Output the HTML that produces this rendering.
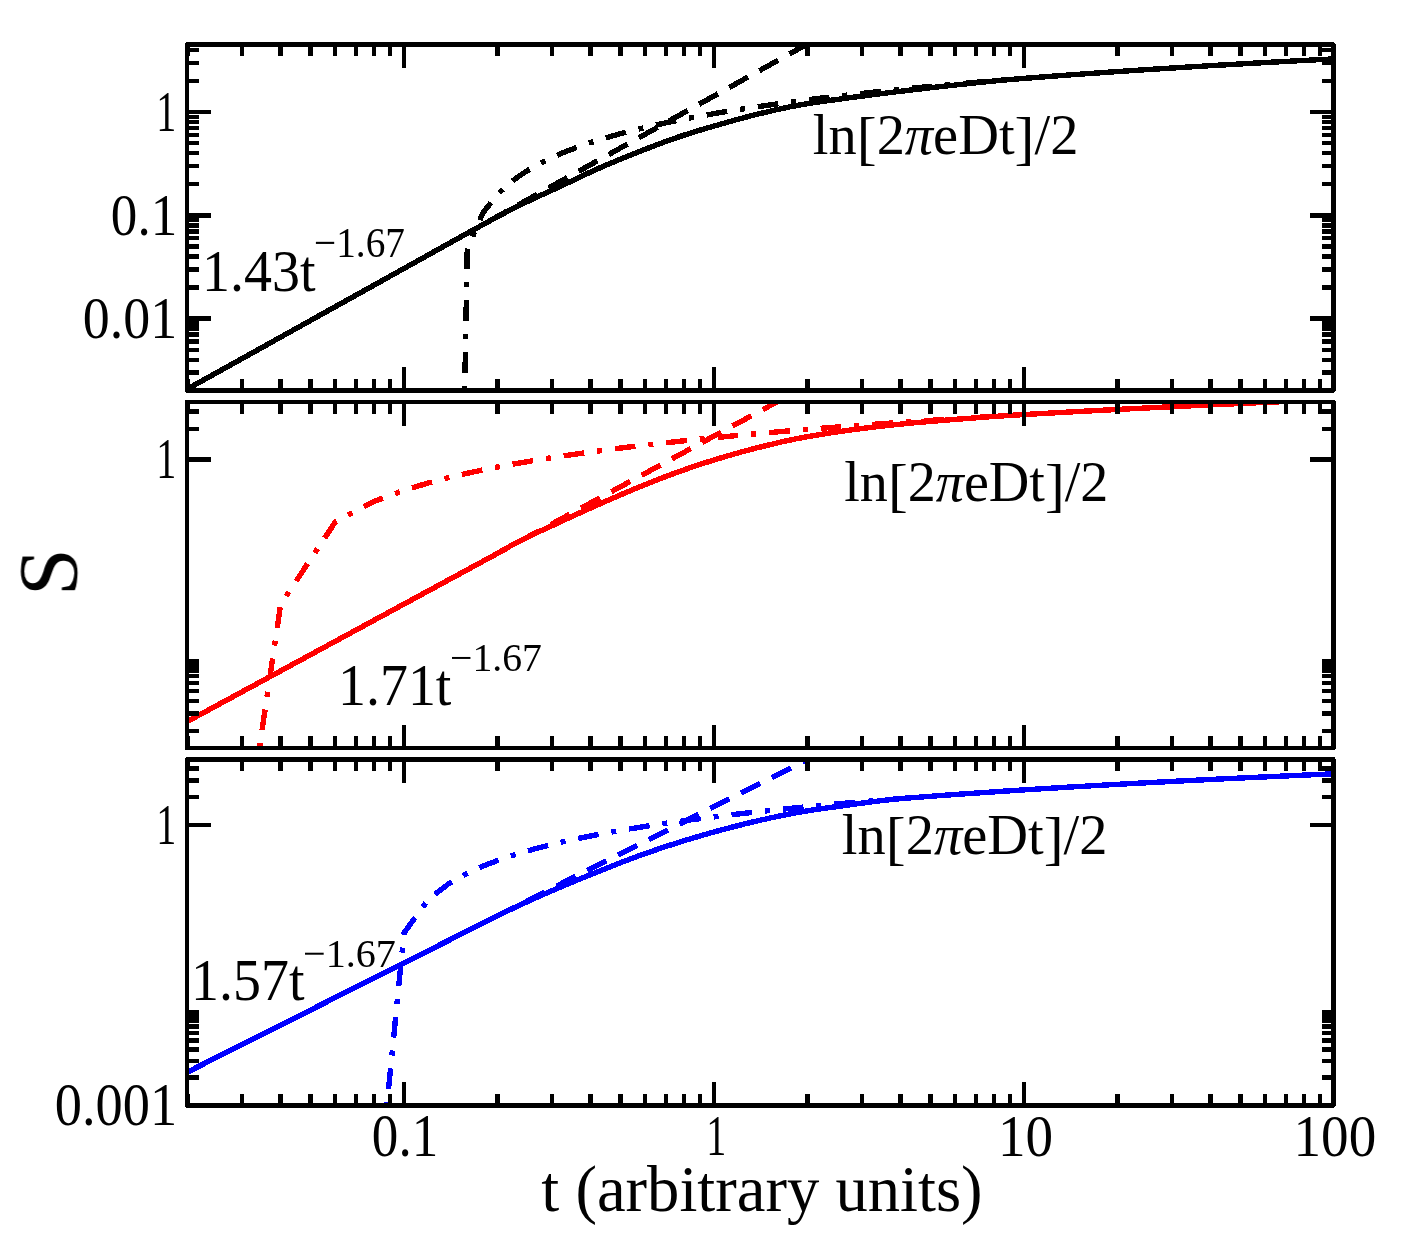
<!DOCTYPE html>
<html><head><meta charset="utf-8"><style>
html,body{margin:0;padding:0;background:#fff;}
svg{display:block;}
text{font-family:"Liberation Serif",serif;fill:#000;}
</style></head><body>
<svg width="1408" height="1236" viewBox="0 0 1408 1236" shape-rendering="crispEdges">
<defs><clipPath id="c0"><rect x="187.0" y="44.5" width="1146.5" height="346.0"/></clipPath><clipPath id="c1"><rect x="187.0" y="402.0" width="1146.5" height="346.0"/></clipPath><clipPath id="c2"><rect x="187.0" y="759.4" width="1146.5" height="346.1"/></clipPath></defs>
<rect width="1408" height="1236" fill="#fff"/>
<g clip-path="url(#c0)">
<path d="M170 398.68 L173 397.01 L176 395.34 L179 393.67 L182 392 L185 390.34 L188 388.67 L191 387 L194 385.33 L197 383.66 L200 381.99 L203 380.32 L206 378.65 L209 376.98 L212 375.31 L215 373.64 L218 371.97 L221 370.3 L224 368.63 L227 366.96 L230 365.29 L233 363.62 L236 361.95 L239 360.29 L242 358.62 L245 356.95 L248 355.28 L251 353.61 L254 351.94 L257 350.27 L260 348.6 L263 346.93 L266 345.26 L269 343.59 L272 341.92 L275 340.25 L278 338.58 L281 336.91 L284 335.24 L287 333.57 L290 331.9 L293 330.23 L296 328.57 L299 326.9 L302 325.23 L305 323.56 L308 321.89 L311 320.22 L314 318.55 L317 316.88 L320 315.21 L323 313.54 L326 311.87 L329 310.2 L332 308.53 L335 306.86 L338 305.19 L341 303.52 L344 301.85 L347 300.18 L350 298.52 L353 296.85 L356 295.18 L359 293.51 L362 291.84 L365 290.17 L368 288.5 L371 286.83 L374 285.16 L377 283.49 L380 281.82 L383 280.15 L386 278.48 L389 276.81 L392 275.14 L395 273.47 L398 271.8 L401 270.13 L404 268.46 L407 266.8 L410 265.13 L413 263.46 L416 261.79 L419 260.12 L422 258.45 L425 256.78 L428 255.11 L431 253.44 L434 251.77 L437 250.1 L440 248.43 L443 246.76 L446 245.09 L449 243.42 L452 241.75 L455 240.08 L458 238.41 L461 236.75 L464 235.08 L467 233.4 L470 231.73 L473 230.06 L476 228.42 L479 226.78 L482 225.14 L485 223.5 L488 221.87 L491 220.24 L494 218.62 L497 217.01 L500 215.41 L503 213.82 L506 212.24 L509 210.68 L512 209.13 L515 207.6 L518 206.09 L521 204.61 L524 203.14 L527 201.71 L530 200.29 L533 198.88 L536 197.5 L539 196.12 L542 194.75 L545 193.38 L548 192.02 L551 190.65 L554 189.28 L557 187.9 L560 186.51 L563 185.1 L566 183.68 L569 182.26 L572 180.83 L575 179.39 L578 177.96 L581 176.54 L584 175.12 L587 173.71 L590 172.31 L593 170.93 L596 169.58 L599 168.24 L602 166.93 L605 165.63 L608 164.34 L611 163.07 L614 161.81 L617 160.56 L620 159.32 L623 158.09 L626 156.88 L629 155.67 L632 154.47 L635 153.28 L638 152.1 L641 150.93 L644 149.76 L647 148.6 L650 147.44 L653 146.28 L656 145.14 L659 144.01 L662 142.88 L665 141.77 L668 140.68 L671 139.61 L674 138.55 L677 137.51 L680 136.5 L683 135.51 L686 134.53 L689 133.57 L692 132.63 L695 131.7 L698 130.78 L701 129.88 L704 128.98 L707 128.1 L710 127.22 L713 126.35 L716 125.49 L719 124.63 L722 123.77 L725 122.92 L728 122.07 L731 121.23 L734 120.39 L737 119.56 L740 118.74 L743 117.93 L746 117.13 L749 116.35 L752 115.58 L755 114.82 L758 114.08 L761 113.36 L764 112.65 L767 111.94 L770 111.23 L773 110.54 L776 109.85 L779 109.18 L782 108.52 L785 107.88 L788 107.26 L791 106.65 L794 106.07 L797 105.5 L800 104.96 L803 104.45 L806 103.95 L809 103.47 L812 103 L815 102.55 L818 102.11 L821 101.68 L824 101.25 L827 100.84 L830 100.42 L833 100.01 L836 99.6 L839 99.19 L842 98.77 L845 98.37 L848 97.96 L851 97.56 L854 97.16 L857 96.76 L860 96.37 L863 95.98 L866 95.59 L869 95.2 L872 94.82 L875 94.44 L878 94.07 L881 93.69 L884 93.32 L887 92.95 L890 92.58 L893 92.21 L896 91.85 L899 91.48 L902 91.12 L905 90.76 L908 90.4 L911 90.05 L914 89.69 L917 89.34 L920 88.99 L923 88.64 L926 88.3 L929 87.95 L932 87.61 L935 87.27 L938 86.93 L941 86.6 L944 86.26 L947 85.93 L950 85.6 L953 85.28 L956 84.95 L959 84.63 L962 84.31 L965 83.99 L968 83.67 L971 83.35 L974 83.04 L977 82.72 L980 82.41 L983 82.1 L986 81.79 L989 81.49 L992 81.19 L995 80.9 L998 80.61 L1001 80.32 L1004 80.05 L1007 79.77 L1010 79.51 L1013 79.26 L1016 79.03 L1019 78.79 L1022 78.55 L1025 78.31 L1028 78.08 L1031 77.85 L1034 77.61 L1037 77.38 L1040 77.15 L1043 76.92 L1046 76.69 L1049 76.47 L1052 76.24 L1055 76.02 L1058 75.79 L1061 75.57 L1064 75.35 L1067 75.13 L1070 74.91 L1073 74.69 L1076 74.47 L1079 74.26 L1082 74.04 L1085 73.83 L1088 73.62 L1091 73.4 L1094 73.19 L1097 72.98 L1100 72.77 L1103 72.57 L1106 72.36 L1109 72.15 L1112 71.95 L1115 71.74 L1118 71.54 L1121 71.34 L1124 71.14 L1127 70.94 L1130 70.74 L1133 70.54 L1136 70.34 L1139 70.14 L1142 69.95 L1145 69.75 L1148 69.56 L1151 69.36 L1154 69.17 L1157 68.98 L1160 68.79 L1163 68.6 L1166 68.41 L1169 68.22 L1172 68.03 L1175 67.84 L1178 67.66 L1181 67.47 L1184 67.29 L1187 67.1 L1190 66.92 L1193 66.74 L1196 66.55 L1199 66.37 L1202 66.19 L1205 66.01 L1208 65.83 L1211 65.66 L1214 65.48 L1217 65.3 L1220 65.12 L1223 64.95 L1226 64.77 L1229 64.6 L1232 64.43 L1235 64.25 L1238 64.08 L1241 63.91 L1244 63.74 L1247 63.57 L1250 63.4 L1253 63.23 L1256 63.06 L1259 62.9 L1262 62.73 L1265 62.56 L1268 62.4 L1271 62.23 L1274 62.07 L1277 61.9 L1280 61.74 L1283 61.58 L1286 61.41 L1289 61.25 L1292 61.09 L1295 60.93 L1298 60.77 L1301 60.61 L1304 60.45 L1307 60.3 L1310 60.14 L1313 59.98 L1316 59.82 L1319 59.67 L1322 59.51 L1325 59.36 L1328 59.2 L1331 59.05 L1334 58.9 L1337 58.74 L1340 58.59 L1343 58.44" fill="none" stroke="#000" stroke-width="5.4" stroke-linejoin="round"/>
<path d="M187.32 389.04 L1427.32 -301" fill="none" stroke="#000" stroke-width="5.4" stroke-linejoin="round" stroke-dasharray="21.5 12.95" stroke-dashoffset="0"/>
<path d="M449.3 1236 L467.28 248.7 L483.13 212.52 L497.32 194.48 L510.15 182.72 L521.87 174.15 L532.64 167.5 L542.62 162.11 L551.91 157.61 L560.6 153.78 L568.76 150.45 L576.45 147.53 L583.73 144.93 L590.64 142.59 L597.21 140.48 L603.47 138.55 L609.45 136.79 L615.18 135.16 L620.68 133.65 L625.96 132.24 L631.04 130.93 L635.94 129.71 L640.66 128.55 L645.23 127.47 L649.64 126.44 L653.92 125.47 L658.06 124.55 L662.08 123.67 L665.98 122.83 L669.77 122.04 L673.46 121.27 L677.05 120.54 L680.55 119.85 L683.96 119.17 L687.28 118.53 L690.53 117.91 L693.69 117.31 L696.79 116.73 L699.82 116.18 L702.77 115.64 L705.67 115.12 L708.5 114.61 L711.28 114.13 L714 113.65 L716.67 113.2 L719.28 112.75 L721.84 112.32 L724.36 111.9 L726.83 111.49 L729.26 111.09 L731.64 110.7 L733.98 110.33 L736.28 109.96 L738.55 109.6 L740.77 109.25 L742.96 108.91 L745.11 108.57 L747.24 108.25 L749.32 107.93 L751.38 107.62 L753.4 107.31 L755.4 107.01 L757.36 106.72 L759.3 106.44 L761.21 106.16 L763.09 105.88 L764.95 105.61 L766.78 105.35 L768.59 105.09 L770.37 104.84 L772.13 104.59 L773.87 104.34 L775.58 104.1 L777.28 103.87 L778.95 103.63 L780.6 103.41 L782.23 103.18 L783.85 102.96 L785.44 102.75 L787.01 102.53 L788.57 102.32 L790.11 102.12 L791.63 101.91 L793.13 101.71 L796.09 101.32 L798.99 100.95 L801.82 100.58 L804.6 100.22 L807.32 99.87 L809.99 99.54 L812.6 99.21 L815.16 98.89 L817.68 98.57 L820.15 98.27 L822.58 97.97 L824.96 97.68 L827.3 97.4 L829.6 97.13 L831.87 96.86 L834.09 96.59 L836.28 96.33 L838.43 96.08 L840.55 95.83 L842.64 95.59 L844.7 95.36 L846.72 95.12 L848.72 94.9 L850.68 94.67 L852.62 94.45 L854.53 94.24 L856.41 94.03 L858.27 93.82 L860.1 93.62 L861.91 93.42 L863.69 93.22 L865.45 93.03 L867.19 92.84 L868.9 92.66 L870.6 92.47 L872.27 92.29 L873.92 92.12 L875.55 91.94 L877.17 91.77 L878.76 91.6 L880.33 91.44 L881.89 91.27 L883.43 91.11 L884.95 90.95 L886.45 90.8 L888.68 90.56 L890.87 90.34 L893.02 90.12 L895.14 89.9 L897.23 89.69 L899.29 89.48 L901.31 89.28 L903.3 89.08 L905.27 88.88 L907.21 88.69 L909.12 88.5 L911 88.32 L912.86 88.13 L914.69 87.95 L916.5 87.78 L918.28 87.61 L920.04 87.44 L921.78 87.27 L923.49 87.1 L925.18 86.94 L926.86 86.78 L928.51 86.63 L930.14 86.47 L931.75 86.32 L933.35 86.17 L934.92 86.02 L936.48 85.88 L938.02 85.74 L939.54 85.6 L941.04 85.46 L943.02 85.27 L944.97 85.1 L946.9 84.92 L948.79 84.75 L950.66 84.58 L952.51 84.41 L954.33 84.25 L956.12 84.09 L957.89 83.93 L959.64 83.77 L961.37 83.62 L963.07 83.47 L964.75 83.32 L966.42 83.18 L968.06 83.03 L969.68 82.89 L971.28 82.75 L972.87 82.61 L974.43 82.48 L975.98 82.35 L977.51 82.21 L979.02 82.08 L980.89 81.93 L982.73 81.77 L984.55 81.61 L986.34 81.46 L988.11 81.31 L989.86 81.17 L991.58 81.02 L993.28 80.88 L994.96 80.74 L996.62 80.6 L998.26 80.47 L999.88 80.33 L1001.48 80.2 L1003.07 80.07 L1004.63 79.95 L1006.18 79.82 L1007.7 79.7 L1009.22 79.57 L1011.01 79.43 L1012.77 79.29 L1014.52 79.15 L1016.24 79.01 L1017.94 78.87 L1019.62 78.74 L1021.28 78.61 L1022.92 78.48 L1024.54 78.35 L1026.14 78.23 L1027.72 78.1 L1029.28 77.98 L1030.82 77.86 L1032.35 77.74 L1033.86 77.62 L1035.6 77.49 L1037.32 77.36 L1039.02 77.23 L1040.69 77.1 L1042.35 76.97 L1043.98 76.85 L1045.6 76.72 L1047.19 76.6 L1048.77 76.48 L1050.33 76.37 L1051.87 76.25 L1053.39 76.14 L1054.9 76.02 L1056.6 75.9 L1058.28 75.77 L1059.94 75.65 L1061.58 75.53 L1063.2 75.41 L1064.8 75.29 L1066.38 75.17 L1067.95 75.06 L1069.49 74.95 L1071.02 74.83 L1072.53 74.72 L1074.21 74.6 L1075.87 74.48 L1077.51 74.37 L1079.13 74.25 L1080.73 74.13 L1082.31 74.02 L1083.87 73.91 L1085.41 73.8 L1086.94 73.69 L1088.45 73.58 L1090.11 73.47 L1091.75 73.35 L1093.36 73.24 L1094.96 73.13 L1096.54 73.01 L1098.11 72.91 L1099.65 72.8 L1101.18 72.69 L1102.68 72.59 L1104.33 72.47 L1105.95 72.36 L1107.55 72.25 L1109.13 72.14 L1110.7 72.04 L1112.24 71.93 L1113.77 71.83 L1115.28 71.72 L1116.91 71.61 L1118.53 71.5 L1120.12 71.4 L1121.69 71.29 L1123.25 71.19 L1124.78 71.08 L1126.3 70.98 L1127.81 70.88 L1129.41 70.77 L1131.01 70.67 L1132.58 70.57 L1134.13 70.46 L1135.67 70.36 L1137.19 70.26 L1138.69 70.16 L1140.29 70.06 L1141.87 69.95 L1143.43 69.85 L1144.97 69.75 L1146.5 69.65 L1148.01 69.56 L1149.6 69.45 L1151.18 69.35 L1152.75 69.25 L1154.29 69.15 L1155.81 69.05 L1157.32 68.96 L1158.91 68.86 L1160.49 68.76 L1162.04 68.66 L1163.58 68.56 L1165.1 68.46 L1166.6 68.37 L1168.18 68.27 L1169.74 68.17 L1171.28 68.08 L1172.8 67.98 L1174.31 67.89 L1175.89 67.79 L1177.45 67.69 L1178.99 67.6 L1180.51 67.5 L1182.02 67.41 L1183.59 67.31 L1185.15 67.22 L1186.68 67.12 L1188.2 67.03 L1189.71 66.94 L1191.27 66.84 L1192.81 66.75 L1194.34 66.65 L1195.85 66.56 L1197.42 66.47 L1198.97 66.37 L1200.51 66.28 L1202.02 66.19 L1203.59 66.1 L1205.14 66 L1206.68 65.91 L1208.19 65.82 L1209.76 65.73 L1211.31 65.64 L1212.84 65.55 L1214.36 65.46 L1215.92 65.36 L1217.46 65.27 L1218.99 65.18 L1220.5 65.1 L1222.06 65 L1223.59 64.91 L1225.11 64.83 L1226.62 64.74 L1228.16 64.65 L1229.69 64.56 L1231.2 64.47 L1232.75 64.38 L1234.28 64.3 L1235.8 64.21 L1237.35 64.12 L1238.89 64.03 L1240.41 63.94 L1241.91 63.86 L1243.45 63.77 L1244.97 63.68 L1246.48 63.6 L1248.02 63.51 L1249.54 63.43 L1251.04 63.34 L1252.58 63.26 L1254.1 63.17 L1255.6 63.09 L1257.14 63 L1258.65 62.92 L1260.2 62.83 L1261.73 62.74 L1263.24 62.66 L1264.78 62.57 L1266.3 62.49 L1267.8 62.41 L1269.34 62.32 L1270.85 62.24 L1272.39 62.15 L1273.92 62.07 L1275.42 61.99 L1276.95 61.91 L1278.47 61.82 L1280 61.74 L1281.52 61.66 L1283.02 61.58 L1284.55 61.49 L1286.06 61.41 L1287.59 61.33 L1289.1 61.25 L1290.63 61.17 L1292.15 61.08 L1293.68 61 L1295.2 60.92 L1296.7 60.84 L1298.22 60.76 L1299.72 60.68 L1301.24 60.6 L1302.74 60.52 L1304.26 60.44 L1305.76 60.36 L1307.28 60.28 L1308.78 60.2 L1310.3 60.12 L1311.8 60.04 L1313.32 59.96 L1314.85 59.88 L1316.36 59.81 L1317.89 59.73 L1319.4 59.65 L1320.92 59.57 L1322.42 59.49 L1323.94 59.41 L1325.44 59.34 L1326.95 59.26 L1328.48 59.18 L1329.98 59.1 L1331.5 59.02 L1333 58.95 L1334 58.9" fill="none" stroke="#000" stroke-width="5.4" stroke-linejoin="round" stroke-dasharray="20.8 12.95 5 12.95" stroke-dashoffset="15.4"/>
</g>
<g clip-path="url(#c1)">
<path d="M170 730.88 L173 729.25 L176 727.63 L179 726 L182 724.37 L185 722.75 L188 721.12 L191 719.5 L194 717.87 L197 716.24 L200 714.62 L203 712.99 L206 711.37 L209 709.74 L212 708.12 L215 706.49 L218 704.86 L221 703.24 L224 701.61 L227 699.99 L230 698.36 L233 696.73 L236 695.11 L239 693.48 L242 691.86 L245 690.23 L248 688.61 L251 686.98 L254 685.35 L257 683.73 L260 682.1 L263 680.48 L266 678.85 L269 677.22 L272 675.6 L275 673.97 L278 672.35 L281 670.72 L284 669.1 L287 667.47 L290 665.84 L293 664.22 L296 662.59 L299 660.97 L302 659.34 L305 657.71 L308 656.09 L311 654.46 L314 652.84 L317 651.21 L320 649.59 L323 647.96 L326 646.33 L329 644.71 L332 643.08 L335 641.46 L338 639.83 L341 638.2 L344 636.58 L347 634.95 L350 633.33 L353 631.7 L356 630.08 L359 628.45 L362 626.82 L365 625.2 L368 623.57 L371 621.95 L374 620.32 L377 618.7 L380 617.07 L383 615.44 L386 613.82 L389 612.19 L392 610.57 L395 608.94 L398 607.31 L401 605.69 L404 604.06 L407 602.44 L410 600.81 L413 599.19 L416 597.56 L419 595.93 L422 594.31 L425 592.68 L428 591.06 L431 589.43 L434 587.8 L437 586.18 L440 584.55 L443 582.93 L446 581.3 L449 579.68 L452 578.05 L455 576.42 L458 574.8 L461 573.17 L464 571.55 L467 569.92 L470 568.29 L473 566.67 L476 565.04 L479 563.42 L482 561.79 L485 560.17 L488 558.54 L491 556.91 L494 555.25 L497 553.57 L500 551.87 L503 550.18 L506 548.48 L509 546.8 L512 545.15 L515 543.52 L518 541.93 L521 540.39 L524 538.88 L527 537.4 L530 535.94 L533 534.51 L536 533.09 L539 531.68 L542 530.29 L545 528.91 L548 527.53 L551 526.15 L554 524.78 L557 523.39 L560 522.01 L563 520.62 L566 519.23 L569 517.84 L572 516.46 L575 515.08 L578 513.7 L581 512.33 L584 510.97 L587 509.61 L590 508.25 L593 506.91 L596 505.57 L599 504.24 L602 502.92 L605 501.6 L608 500.29 L611 498.98 L614 497.67 L617 496.37 L620 495.08 L623 493.8 L626 492.52 L629 491.26 L632 490.01 L635 488.76 L638 487.53 L641 486.31 L644 485.1 L647 483.9 L650 482.7 L653 481.5 L656 480.32 L659 479.15 L662 477.99 L665 476.83 L668 475.7 L671 474.57 L674 473.47 L677 472.37 L680 471.3 L683 470.24 L686 469.19 L689 468.15 L692 467.13 L695 466.11 L698 465.11 L701 464.12 L704 463.14 L707 462.17 L710 461.22 L713 460.28 L716 459.35 L719 458.44 L722 457.54 L725 456.65 L728 455.77 L731 454.9 L734 454.05 L737 453.2 L740 452.36 L743 451.54 L746 450.72 L749 449.92 L752 449.14 L755 448.36 L758 447.6 L761 446.85 L764 446.11 L767 445.37 L770 444.65 L773 443.93 L776 443.22 L779 442.52 L782 441.83 L785 441.16 L788 440.5 L791 439.86 L794 439.24 L797 438.64 L800 438.06 L803 437.5 L806 436.95 L809 436.41 L812 435.88 L815 435.37 L818 434.87 L821 434.38 L824 433.9 L827 433.43 L830 432.97 L833 432.51 L836 432.07 L839 431.64 L842 431.22 L845 430.8 L848 430.39 L851 429.98 L854 429.58 L857 429.18 L860 428.79 L863 428.4 L866 428.02 L869 427.65 L872 427.28 L875 426.92 L878 426.57 L881 426.22 L884 425.88 L887 425.54 L890 425.21 L893 424.89 L896 424.58 L899 424.27 L902 423.97 L905 423.68 L908 423.39 L911 423.11 L914 422.83 L917 422.56 L920 422.3 L923 422.04 L926 421.78 L929 421.53 L932 421.28 L935 421.03 L938 420.79 L941 420.55 L944 420.31 L947 420.07 L950 419.83 L953 419.6 L956 419.36 L959 419.12 L962 418.89 L965 418.65 L968 418.42 L971 418.18 L974 417.95 L977 417.72 L980 417.49 L983 417.27 L986 417.04 L989 416.82 L992 416.61 L995 416.39 L998 416.18 L1001 415.98 L1004 415.77 L1007 415.58 L1010 415.38 L1013 415.2 L1016 415.03 L1019 414.85 L1022 414.68 L1025 414.5 L1028 414.33 L1031 414.16 L1034 413.99 L1037 413.81 L1040 413.64 L1043 413.47 L1046 413.3 L1049 413.14 L1052 412.97 L1055 412.8 L1058 412.63 L1061 412.47 L1064 412.3 L1067 412.14 L1070 411.97 L1073 411.81 L1076 411.65 L1079 411.48 L1082 411.32 L1085 411.16 L1088 411 L1091 410.84 L1094 410.68 L1097 410.52 L1100 410.36 L1103 410.2 L1106 410.05 L1109 409.89 L1112 409.73 L1115 409.58 L1118 409.42 L1121 409.27 L1124 409.12 L1127 408.96 L1130 408.81 L1133 408.66 L1136 408.51 L1139 408.35 L1142 408.2 L1145 408.05 L1148 407.9 L1151 407.75 L1154 407.61 L1157 407.46 L1160 407.31 L1163 407.16 L1166 407.02 L1169 406.87 L1172 406.72 L1175 406.58 L1178 406.43 L1181 406.29 L1184 406.15 L1187 406 L1190 405.86 L1193 405.72 L1196 405.58 L1199 405.43 L1202 405.29 L1205 405.15 L1208 405.01 L1211 404.87 L1214 404.73 L1217 404.59 L1220 404.46 L1223 404.32 L1226 404.18 L1229 404.04 L1232 403.91 L1235 403.77 L1238 403.64 L1241 403.5 L1244 403.37 L1247 403.23 L1250 403.1 L1253 402.96 L1256 402.83 L1259 402.7 L1262 402.56 L1265 402.43 L1268 402.3 L1271 402.17 L1274 402.04 L1277 401.91 L1280 401.78 L1283 401.65 L1286 401.52 L1289 401.39 L1292 401.26 L1295 401.13 L1298 401.01 L1301 400.88 L1304 400.75 L1307 400.62 L1310 400.5 L1313 400.37 L1316 400.25 L1319 400.12 L1322 400 L1325 399.87 L1328 399.75 L1331 399.62 L1334 399.5 L1337 399.38 L1340 399.26 L1343 399.13" fill="none" stroke="#f00" stroke-width="5.4" stroke-linejoin="round"/>
<path d="M187.32 721.49 L1427.32 49.48" fill="none" stroke="#f00" stroke-width="5.4" stroke-linejoin="round" stroke-dasharray="21.5 12.95" stroke-dashoffset="0"/>
<path d="M187.32 1236 L280.64 604.39 L335.23 522.03 L373.96 501.45 L404 490.27 L428.55 482.88 L449.3 477.48 L467.28 473.28 L483.13 469.89 L497.32 467.07 L510.15 464.66 L521.87 462.57 L532.64 460.73 L542.62 459.1 L551.91 457.63 L560.6 456.3 L568.76 455.09 L576.45 453.97 L583.73 452.94 L590.64 451.99 L597.21 451.1 L603.47 450.27 L609.45 449.49 L615.18 448.76 L620.68 448.07 L625.96 447.41 L631.04 446.79 L635.94 446.2 L640.66 445.64 L645.23 445.1 L649.64 444.59 L653.92 444.1 L658.06 443.63 L662.08 443.18 L665.98 442.75 L669.77 442.33 L673.46 441.93 L677.05 441.54 L680.55 441.16 L683.96 440.8 L687.28 440.45 L690.53 440.11 L693.69 439.78 L696.79 439.47 L699.82 439.16 L702.77 438.86 L705.67 438.56 L708.5 438.28 L711.28 438 L714 437.73 L716.67 437.47 L719.28 437.22 L721.84 436.97 L724.36 436.72 L726.83 436.49 L729.26 436.26 L731.64 436.03 L733.98 435.81 L736.28 435.59 L738.55 435.38 L740.77 435.17 L742.96 434.97 L745.11 434.77 L747.24 434.57 L749.32 434.38 L751.38 434.2 L753.4 434.01 L755.4 433.83 L757.36 433.66 L759.3 433.48 L761.21 433.31 L763.09 433.14 L764.95 432.98 L766.78 432.82 L768.59 432.66 L770.37 432.5 L772.13 432.35 L773.87 432.2 L775.58 432.05 L777.28 431.9 L778.95 431.76 L780.6 431.62 L782.23 431.48 L783.85 431.34 L785.44 431.2 L787.01 431.07 L788.57 430.94 L790.11 430.81 L791.63 430.68 L793.13 430.56 L796.09 430.31 L798.99 430.07 L801.82 429.83 L804.6 429.61 L807.32 429.38 L809.99 429.17 L812.6 428.96 L815.16 428.75 L817.68 428.55 L820.15 428.35 L822.58 428.16 L824.96 427.97 L827.3 427.79 L829.6 427.61 L831.87 427.43 L834.09 427.26 L836.28 427.09 L838.43 426.92 L840.55 426.76 L842.64 426.6 L844.7 426.44 L846.72 426.29 L848.72 426.14 L850.68 425.99 L852.62 425.84 L854.53 425.7 L856.41 425.56 L858.27 425.42 L860.1 425.28 L861.91 425.15 L863.69 425.02 L865.45 424.89 L867.19 424.76 L868.9 424.64 L870.6 424.51 L872.27 424.39 L873.92 424.27 L875.55 424.15 L877.17 424.04 L878.76 423.92 L880.33 423.81 L881.89 423.7 L883.43 423.59 L884.95 423.48 L886.45 423.37 L888.68 423.22 L890.87 423.06 L893.02 422.91 L895.14 422.76 L897.23 422.62 L899.29 422.47 L901.31 422.33 L903.3 422.19 L905.27 422.06 L907.21 421.92 L909.12 421.79 L911 421.67 L912.86 421.54 L914.69 421.41 L916.5 421.29 L918.28 421.17 L920.04 421.05 L921.78 420.94 L923.49 420.82 L925.18 420.71 L926.86 420.6 L928.51 420.49 L930.14 420.38 L931.75 420.27 L933.35 420.17 L934.92 420.06 L936.48 419.96 L938.02 419.86 L939.54 419.76 L941.04 419.66 L943.02 419.53 L944.97 419.41 L946.9 419.28 L948.79 419.16 L950.66 419.04 L952.51 418.92 L954.33 418.8 L956.12 418.69 L957.89 418.58 L959.64 418.47 L961.37 418.36 L963.07 418.25 L964.75 418.14 L966.42 418.04 L968.06 417.93 L969.68 417.83 L971.28 417.73 L972.87 417.63 L974.43 417.54 L975.98 417.44 L977.51 417.35 L979.02 417.25 L980.89 417.14 L982.73 417.02 L984.55 416.91 L986.34 416.8 L988.11 416.7 L989.86 416.59 L991.58 416.48 L993.28 416.38 L994.96 416.28 L996.62 416.18 L998.26 416.08 L999.88 415.98 L1001.48 415.89 L1003.07 415.79 L1004.63 415.7 L1006.18 415.61 L1007.7 415.52 L1009.22 415.43 L1011.01 415.32 L1012.77 415.22 L1014.52 415.12 L1016.24 415.01 L1017.94 414.92 L1019.62 414.82 L1021.28 414.72 L1022.92 414.63 L1024.54 414.53 L1026.14 414.44 L1027.72 414.35 L1029.28 414.26 L1030.82 414.17 L1032.35 414.08 L1033.86 413.99 L1035.6 413.89 L1037.32 413.8 L1039.02 413.7 L1040.69 413.6 L1042.35 413.51 L1043.98 413.42 L1045.6 413.33 L1047.19 413.24 L1048.77 413.15 L1050.33 413.06 L1051.87 412.97 L1053.39 412.89 L1054.9 412.81 L1056.6 412.71 L1058.28 412.62 L1059.94 412.53 L1061.58 412.43 L1063.2 412.35 L1064.8 412.26 L1066.38 412.17 L1067.95 412.08 L1069.49 412 L1071.02 411.92 L1072.53 411.83 L1074.21 411.74 L1075.87 411.65 L1077.51 411.56 L1079.13 411.48 L1080.73 411.39 L1082.31 411.3 L1083.87 411.22 L1085.41 411.14 L1086.94 411.06 L1088.45 410.98 L1090.11 410.89 L1091.75 410.8 L1093.36 410.71 L1094.96 410.63 L1096.54 410.54 L1098.11 410.46 L1099.65 410.38 L1101.18 410.3 L1102.68 410.22 L1104.33 410.13 L1105.95 410.05 L1107.55 409.97 L1109.13 409.88 L1110.7 409.8 L1112.24 409.72 L1113.77 409.64 L1115.28 409.56 L1116.91 409.48 L1118.53 409.4 L1120.12 409.31 L1121.69 409.23 L1123.25 409.15 L1124.78 409.08 L1126.3 409 L1127.81 408.92 L1129.41 408.84 L1131.01 408.76 L1132.58 408.68 L1134.13 408.6 L1135.67 408.52 L1137.19 408.45 L1138.69 408.37 L1140.29 408.29 L1141.87 408.21 L1143.43 408.13 L1144.97 408.05 L1146.5 407.98 L1148.01 407.9 L1149.6 407.82 L1151.18 407.75 L1152.75 407.67 L1154.29 407.59 L1155.81 407.52 L1157.32 407.44 L1158.91 407.36 L1160.49 407.29 L1162.04 407.21 L1163.58 407.13 L1165.1 407.06 L1166.6 406.99 L1168.18 406.91 L1169.74 406.83 L1171.28 406.76 L1172.8 406.69 L1174.31 406.61 L1175.89 406.54 L1177.45 406.46 L1178.99 406.39 L1180.51 406.31 L1182.02 406.24 L1183.59 406.17 L1185.15 406.09 L1186.68 406.02 L1188.2 405.95 L1189.71 405.87 L1191.27 405.8 L1192.81 405.73 L1194.34 405.65 L1195.85 405.58 L1197.42 405.51 L1198.97 405.44 L1200.51 405.36 L1202.02 405.29 L1203.59 405.22 L1205.14 405.15 L1206.68 405.07 L1208.19 405 L1209.76 404.93 L1211.31 404.86 L1212.84 404.79 L1214.36 404.72 L1215.92 404.64 L1217.46 404.57 L1218.99 404.5 L1220.5 404.43 L1222.06 404.36 L1223.59 404.29 L1225.11 404.22 L1226.62 404.15 L1228.16 404.08 L1229.69 404.01 L1231.2 403.94 L1232.75 403.87 L1234.28 403.8 L1235.8 403.74 L1237.35 403.67 L1238.89 403.6 L1240.41 403.53 L1241.91 403.46 L1243.45 403.39 L1244.97 403.32 L1246.48 403.25 L1248.02 403.19 L1249.54 403.12 L1251.04 403.05 L1252.58 402.98 L1254.1 402.91 L1255.6 402.85 L1257.14 402.78 L1258.65 402.71 L1260.2 402.64 L1261.73 402.58 L1263.24 402.51 L1264.78 402.44 L1266.3 402.38 L1267.8 402.31 L1269.34 402.24 L1270.85 402.18 L1272.39 402.11 L1273.92 402.04 L1275.42 401.98 L1276.95 401.91 L1278.47 401.85 L1280 401.78 L1281.52 401.71 L1283.02 401.65 L1284.55 401.58 L1286.06 401.52 L1287.59 401.45 L1289.1 401.39 L1290.63 401.32 L1292.15 401.26 L1293.68 401.19 L1295.2 401.13 L1296.7 401.06 L1298.22 401 L1299.72 400.93 L1301.24 400.87 L1302.74 400.8 L1304.26 400.74 L1305.76 400.68 L1307.28 400.61 L1308.78 400.55 L1310.3 400.49 L1311.8 400.42 L1313.32 400.36 L1314.85 400.3 L1316.36 400.23 L1317.89 400.17 L1319.4 400.11 L1320.92 400.04 L1322.42 399.98 L1323.94 399.92 L1325.44 399.85 L1326.95 399.79 L1328.48 399.73 L1329.98 399.67 L1331.5 399.6 L1333 399.54 L1334 399.5" fill="none" stroke="#f00" stroke-width="5.4" stroke-linejoin="round" stroke-dasharray="20.8 12.95 5 12.95" stroke-dashoffset="5.66"/>
</g>
<g clip-path="url(#c2)">
<path d="M170 1080.88 L173 1079.37 L176 1077.86 L179 1076.35 L182 1074.84 L185 1073.32 L188 1071.81 L191 1070.3 L194 1068.79 L197 1067.27 L200 1065.76 L203 1064.25 L206 1062.74 L209 1061.23 L212 1059.71 L215 1058.2 L218 1056.69 L221 1055.18 L224 1053.66 L227 1052.15 L230 1050.64 L233 1049.13 L236 1047.62 L239 1046.1 L242 1044.59 L245 1043.08 L248 1041.57 L251 1040.05 L254 1038.54 L257 1037.03 L260 1035.52 L263 1034.01 L266 1032.49 L269 1030.98 L272 1029.47 L275 1027.96 L278 1026.44 L281 1024.93 L284 1023.42 L287 1021.91 L290 1020.4 L293 1018.88 L296 1017.37 L299 1015.86 L302 1014.35 L305 1012.83 L308 1011.32 L311 1009.81 L314 1008.3 L317 1006.79 L320 1005.27 L323 1003.76 L326 1002.25 L329 1000.74 L332 999.22 L335 997.71 L338 996.2 L341 994.69 L344 993.18 L347 991.66 L350 990.15 L353 988.64 L356 987.13 L359 985.61 L362 984.1 L365 982.59 L368 981.08 L371 979.57 L374 978.05 L377 976.54 L380 975.03 L383 973.52 L386 972 L389 970.49 L392 968.98 L395 967.47 L398 965.96 L401 964.44 L404 962.93 L407 961.42 L410 959.91 L413 958.39 L416 956.88 L419 955.37 L422 953.86 L425 952.35 L428 950.83 L431 949.32 L434 947.81 L437 946.3 L440 944.79 L443 943.27 L446 941.76 L449 940.25 L452 938.74 L455 937.22 L458 935.71 L461 934.2 L464 932.69 L467 931.18 L470 929.66 L473 928.15 L476 926.64 L479 925.13 L482 923.61 L485 922.1 L488 920.58 L491 919.08 L494 917.6 L497 916.11 L500 914.63 L503 913.15 L506 911.68 L509 910.22 L512 908.78 L515 907.35 L518 905.93 L521 904.54 L524 903.15 L527 901.78 L530 900.42 L533 899.08 L536 897.74 L539 896.41 L542 895.09 L545 893.77 L548 892.47 L551 891.17 L554 889.88 L557 888.59 L560 887.31 L563 886.04 L566 884.78 L569 883.52 L572 882.27 L575 881.03 L578 879.79 L581 878.56 L584 877.34 L587 876.12 L590 874.91 L593 873.7 L596 872.5 L599 871.3 L602 870.1 L605 868.91 L608 867.71 L611 866.52 L614 865.33 L617 864.14 L620 862.97 L623 861.8 L626 860.64 L629 859.5 L632 858.37 L635 857.25 L638 856.15 L641 855.07 L644 854 L647 852.94 L650 851.89 L653 850.86 L656 849.83 L659 848.81 L662 847.81 L665 846.81 L668 845.83 L671 844.86 L674 843.89 L677 842.94 L680 842 L683 841.07 L686 840.15 L689 839.23 L692 838.33 L695 837.43 L698 836.55 L701 835.67 L704 834.8 L707 833.95 L710 833.1 L713 832.26 L716 831.43 L719 830.62 L722 829.81 L725 829.01 L728 828.21 L731 827.42 L734 826.64 L737 825.87 L740 825.11 L743 824.35 L746 823.61 L749 822.88 L752 822.16 L755 821.45 L758 820.76 L761 820.07 L764 819.4 L767 818.73 L770 818.06 L773 817.4 L776 816.75 L779 816.12 L782 815.49 L785 814.88 L788 814.28 L791 813.7 L794 813.13 L797 812.59 L800 812.07 L803 811.56 L806 811.07 L809 810.6 L812 810.14 L815 809.69 L818 809.25 L821 808.82 L824 808.39 L827 807.97 L830 807.56 L833 807.15 L836 806.74 L839 806.34 L842 805.93 L845 805.51 L848 805.1 L851 804.68 L854 804.27 L857 803.85 L860 803.44 L863 803.03 L866 802.62 L869 802.22 L872 801.83 L875 801.44 L878 801.06 L881 800.69 L884 800.34 L887 799.99 L890 799.66 L893 799.34 L896 799.04 L899 798.75 L902 798.48 L905 798.25 L908 798.03 L911 797.8 L914 797.57 L917 797.34 L920 797.11 L923 796.88 L926 796.65 L929 796.43 L932 796.21 L935 795.98 L938 795.76 L941 795.54 L944 795.32 L947 795.11 L950 794.89 L953 794.67 L956 794.46 L959 794.25 L962 794.04 L965 793.82 L968 793.61 L971 793.41 L974 793.2 L977 792.99 L980 792.79 L983 792.58 L986 792.38 L989 792.18 L992 791.98 L995 791.77 L998 791.58 L1001 791.38 L1004 791.18 L1007 790.98 L1010 790.79 L1013 790.59 L1016 790.4 L1019 790.21 L1022 790.01 L1025 789.82 L1028 789.63 L1031 789.44 L1034 789.26 L1037 789.07 L1040 788.88 L1043 788.7 L1046 788.51 L1049 788.33 L1052 788.14 L1055 787.96 L1058 787.78 L1061 787.6 L1064 787.42 L1067 787.24 L1070 787.06 L1073 786.88 L1076 786.71 L1079 786.53 L1082 786.36 L1085 786.18 L1088 786.01 L1091 785.83 L1094 785.66 L1097 785.49 L1100 785.32 L1103 785.15 L1106 784.98 L1109 784.81 L1112 784.64 L1115 784.48 L1118 784.31 L1121 784.14 L1124 783.98 L1127 783.81 L1130 783.65 L1133 783.49 L1136 783.32 L1139 783.16 L1142 783 L1145 782.84 L1148 782.68 L1151 782.52 L1154 782.36 L1157 782.2 L1160 782.04 L1163 781.89 L1166 781.73 L1169 781.58 L1172 781.42 L1175 781.27 L1178 781.11 L1181 780.96 L1184 780.81 L1187 780.65 L1190 780.5 L1193 780.35 L1196 780.2 L1199 780.05 L1202 779.9 L1205 779.75 L1208 779.6 L1211 779.45 L1214 779.31 L1217 779.16 L1220 779.01 L1223 778.87 L1226 778.72 L1229 778.58 L1232 778.43 L1235 778.29 L1238 778.15 L1241 778 L1244 777.86 L1247 777.72 L1250 777.58 L1253 777.44 L1256 777.3 L1259 777.16 L1262 777.02 L1265 776.88 L1268 776.74 L1271 776.6 L1274 776.47 L1277 776.33 L1280 776.19 L1283 776.06 L1286 775.92 L1289 775.79 L1292 775.65 L1295 775.52 L1298 775.38 L1301 775.25 L1304 775.12 L1307 774.99 L1310 774.85 L1313 774.72 L1316 774.59 L1319 774.46 L1322 774.33 L1325 774.2 L1328 774.07 L1331 773.94 L1334 773.81 L1337 773.68 L1340 773.56 L1343 773.43" fill="none" stroke="#00f" stroke-width="5.4" stroke-linejoin="round"/>
<path d="M187.32 1072.15 L1427.32 447.11" fill="none" stroke="#00f" stroke-width="5.4" stroke-linejoin="round" stroke-dasharray="21.5 12.95" stroke-dashoffset="0"/>
<path d="M373.96 1236 L404 932.94 L428.55 899.12 L449.3 883.26 L467.28 873.23 L483.13 866.06 L497.32 860.57 L510.15 856.17 L521.87 852.53 L532.64 849.45 L542.62 846.79 L551.91 844.46 L560.6 842.39 L568.76 840.55 L576.45 838.88 L583.73 837.36 L590.64 835.97 L597.21 834.7 L603.47 833.51 L609.45 832.41 L615.18 831.39 L620.68 830.43 L625.96 829.53 L631.04 828.68 L635.94 827.88 L640.66 827.12 L645.23 826.4 L649.64 825.72 L653.92 825.07 L658.06 824.45 L662.08 823.85 L665.98 823.28 L669.77 822.74 L673.46 822.21 L677.05 821.71 L680.55 821.23 L683.96 820.76 L687.28 820.31 L690.53 819.88 L693.69 819.46 L696.79 819.05 L699.82 818.66 L702.77 818.28 L705.67 817.91 L708.5 817.55 L711.28 817.21 L714 816.87 L716.67 816.54 L719.28 816.22 L721.84 815.91 L724.36 815.61 L726.83 815.31 L729.26 815.03 L731.64 814.75 L733.98 814.47 L736.28 814.21 L738.55 813.94 L740.77 813.69 L742.96 813.44 L745.11 813.2 L747.24 812.96 L749.32 812.72 L751.38 812.5 L753.4 812.27 L755.4 812.05 L757.36 811.84 L759.3 811.63 L761.21 811.42 L763.09 811.22 L764.95 811.02 L766.78 810.82 L768.59 810.63 L770.37 810.44 L772.13 810.26 L773.87 810.07 L775.58 809.89 L777.28 809.72 L778.95 809.55 L780.6 809.38 L782.23 809.21 L783.85 809.04 L785.44 808.88 L787.01 808.72 L788.57 808.57 L790.11 808.41 L791.63 808.26 L793.13 808.11 L796.09 807.81 L798.99 807.53 L801.82 807.25 L804.6 806.98 L807.32 806.72 L809.99 806.46 L812.6 806.21 L815.16 805.97 L817.68 805.73 L820.15 805.5 L822.58 805.28 L824.96 805.06 L827.3 804.84 L829.6 804.63 L831.87 804.42 L834.09 804.22 L836.28 804.02 L838.43 803.83 L840.55 803.64 L842.64 803.45 L844.7 803.27 L846.72 803.09 L848.72 802.92 L850.68 802.75 L852.62 802.58 L854.53 802.41 L856.41 802.25 L858.27 802.09 L860.1 801.93 L861.91 801.78 L863.69 801.63 L865.45 801.48 L867.19 801.33 L868.9 801.19 L870.6 801.04 L872.27 800.91 L873.92 800.77 L875.55 800.63 L877.17 800.5 L878.76 800.37 L880.33 800.24 L881.89 800.11 L883.43 799.98 L884.95 799.86 L886.45 799.74 L888.68 799.56 L890.87 799.38 L893.02 799.21 L895.14 799.04 L897.23 798.87 L899.29 798.71 L901.31 798.55 L903.3 798.4 L905.27 798.24 L907.21 798.09 L909.12 797.94 L911 797.8 L912.86 797.65 L914.69 797.51 L916.5 797.37 L918.28 797.24 L920.04 797.1 L921.78 796.97 L923.49 796.84 L925.18 796.71 L926.86 796.59 L928.51 796.47 L930.14 796.34 L931.75 796.22 L933.35 796.11 L934.92 795.99 L936.48 795.87 L938.02 795.76 L939.54 795.65 L941.04 795.54 L943.02 795.39 L944.97 795.25 L946.9 795.11 L948.79 794.98 L950.66 794.84 L952.51 794.71 L954.33 794.58 L956.12 794.45 L957.89 794.33 L959.64 794.2 L961.37 794.08 L963.07 793.96 L964.75 793.84 L966.42 793.73 L968.06 793.61 L969.68 793.5 L971.28 793.39 L972.87 793.28 L974.43 793.17 L975.98 793.06 L977.51 792.96 L979.02 792.85 L980.89 792.73 L982.73 792.6 L984.55 792.48 L986.34 792.36 L988.11 792.24 L989.86 792.12 L991.58 792 L993.28 791.89 L994.96 791.78 L996.62 791.67 L998.26 791.56 L999.88 791.45 L1001.48 791.34 L1003.07 791.24 L1004.63 791.14 L1006.18 791.04 L1007.7 790.94 L1009.22 790.84 L1011.01 790.72 L1012.77 790.61 L1014.52 790.49 L1016.24 790.38 L1017.94 790.27 L1019.62 790.17 L1021.28 790.06 L1022.92 789.96 L1024.54 789.85 L1026.14 789.75 L1027.72 789.65 L1029.28 789.55 L1030.82 789.46 L1032.35 789.36 L1033.86 789.26 L1035.6 789.16 L1037.32 789.05 L1039.02 788.94 L1040.69 788.84 L1042.35 788.74 L1043.98 788.64 L1045.6 788.54 L1047.19 788.44 L1048.77 788.34 L1050.33 788.25 L1051.87 788.15 L1053.39 788.06 L1054.9 787.97 L1056.6 787.86 L1058.28 787.76 L1059.94 787.66 L1061.58 787.56 L1063.2 787.47 L1064.8 787.37 L1066.38 787.28 L1067.95 787.18 L1069.49 787.09 L1071.02 787 L1072.53 786.91 L1074.21 786.81 L1075.87 786.72 L1077.51 786.62 L1079.13 786.52 L1080.73 786.43 L1082.31 786.34 L1083.87 786.25 L1085.41 786.16 L1086.94 786.07 L1088.45 785.98 L1090.11 785.89 L1091.75 785.79 L1093.36 785.7 L1094.96 785.61 L1096.54 785.52 L1098.11 785.43 L1099.65 785.34 L1101.18 785.25 L1102.68 785.17 L1104.33 785.07 L1105.95 784.98 L1107.55 784.89 L1109.13 784.8 L1110.7 784.72 L1112.24 784.63 L1113.77 784.54 L1115.28 784.46 L1116.91 784.37 L1118.53 784.28 L1120.12 784.19 L1121.69 784.11 L1123.25 784.02 L1124.78 783.93 L1126.3 783.85 L1127.81 783.77 L1129.41 783.68 L1131.01 783.59 L1132.58 783.51 L1134.13 783.42 L1135.67 783.34 L1137.19 783.26 L1138.69 783.18 L1140.29 783.09 L1141.87 783.01 L1143.43 782.92 L1144.97 782.84 L1146.5 782.76 L1148.01 782.68 L1149.6 782.59 L1151.18 782.51 L1152.75 782.43 L1154.29 782.35 L1155.81 782.26 L1157.32 782.19 L1158.91 782.1 L1160.49 782.02 L1162.04 781.94 L1163.58 781.86 L1165.1 781.78 L1166.6 781.7 L1168.18 781.62 L1169.74 781.54 L1171.28 781.46 L1172.8 781.38 L1174.31 781.3 L1175.89 781.22 L1177.45 781.14 L1178.99 781.06 L1180.51 780.98 L1182.02 780.91 L1183.59 780.83 L1185.15 780.75 L1186.68 780.67 L1188.2 780.59 L1189.71 780.52 L1191.27 780.44 L1192.81 780.36 L1194.34 780.28 L1195.85 780.21 L1197.42 780.13 L1198.97 780.05 L1200.51 779.97 L1202.02 779.9 L1203.59 779.82 L1205.14 779.74 L1206.68 779.67 L1208.19 779.59 L1209.76 779.52 L1211.31 779.44 L1212.84 779.36 L1214.36 779.29 L1215.92 779.21 L1217.46 779.14 L1218.99 779.06 L1220.5 778.99 L1222.06 778.91 L1223.59 778.84 L1225.11 778.77 L1226.62 778.69 L1228.16 778.62 L1229.69 778.55 L1231.2 778.47 L1232.75 778.4 L1234.28 778.32 L1235.8 778.25 L1237.35 778.18 L1238.89 778.1 L1240.41 778.03 L1241.91 777.96 L1243.45 777.89 L1244.97 777.82 L1246.48 777.75 L1248.02 777.67 L1249.54 777.6 L1251.04 777.53 L1252.58 777.46 L1254.1 777.39 L1255.6 777.32 L1257.14 777.25 L1258.65 777.18 L1260.2 777.1 L1261.73 777.03 L1263.24 776.96 L1264.78 776.89 L1266.3 776.82 L1267.8 776.75 L1269.34 776.68 L1270.85 776.61 L1272.39 776.54 L1273.92 776.47 L1275.42 776.4 L1276.95 776.33 L1278.47 776.26 L1280 776.19 L1281.52 776.12 L1283.02 776.06 L1284.55 775.99 L1286.06 775.92 L1287.59 775.85 L1289.1 775.78 L1290.63 775.71 L1292.15 775.65 L1293.68 775.58 L1295.2 775.51 L1296.7 775.44 L1298.22 775.37 L1299.72 775.31 L1301.24 775.24 L1302.74 775.17 L1304.26 775.11 L1305.76 775.04 L1307.28 774.97 L1308.78 774.91 L1310.3 774.84 L1311.8 774.77 L1313.32 774.71 L1314.85 774.64 L1316.36 774.58 L1317.89 774.51 L1319.4 774.44 L1320.92 774.38 L1322.42 774.31 L1323.94 774.25 L1325.44 774.18 L1326.95 774.12 L1328.48 774.05 L1329.98 773.99 L1331.5 773.92 L1333 773.86 L1334 773.81" fill="none" stroke="#00f" stroke-width="5.4" stroke-linejoin="round" stroke-dasharray="20.8 12.95 5 12.95" stroke-dashoffset="7.44"/>
</g>
<path d="M187.32 390.5L187.32 378.8 M187.32 44.5L187.32 56.2 M241.91 390.5L241.91 378.8 M241.91 44.5L241.91 56.2 M280.64 390.5L280.64 378.8 M280.64 44.5L280.64 56.2 M310.68 390.5L310.68 378.8 M310.68 44.5L310.68 56.2 M335.23 390.5L335.23 378.8 M335.23 44.5L335.23 56.2 M355.98 390.5L355.98 378.8 M355.98 44.5L355.98 56.2 M373.96 390.5L373.96 378.8 M373.96 44.5L373.96 56.2 M389.82 390.5L389.82 378.8 M389.82 44.5L389.82 56.2 M404 390.5L404 367 M404 44.5L404 68 M497.32 390.5L497.32 378.8 M497.32 44.5L497.32 56.2 M551.91 390.5L551.91 378.8 M551.91 44.5L551.91 56.2 M590.64 390.5L590.64 378.8 M590.64 44.5L590.64 56.2 M620.68 390.5L620.68 378.8 M620.68 44.5L620.68 56.2 M645.23 390.5L645.23 378.8 M645.23 44.5L645.23 56.2 M665.98 390.5L665.98 378.8 M665.98 44.5L665.98 56.2 M683.96 390.5L683.96 378.8 M683.96 44.5L683.96 56.2 M699.82 390.5L699.82 378.8 M699.82 44.5L699.82 56.2 M714 390.5L714 367 M714 44.5L714 68 M807.32 390.5L807.32 378.8 M807.32 44.5L807.32 56.2 M861.91 390.5L861.91 378.8 M861.91 44.5L861.91 56.2 M900.64 390.5L900.64 378.8 M900.64 44.5L900.64 56.2 M930.68 390.5L930.68 378.8 M930.68 44.5L930.68 56.2 M955.23 390.5L955.23 378.8 M955.23 44.5L955.23 56.2 M975.98 390.5L975.98 378.8 M975.98 44.5L975.98 56.2 M993.96 390.5L993.96 378.8 M993.96 44.5L993.96 56.2 M1009.82 390.5L1009.82 378.8 M1009.82 44.5L1009.82 56.2 M1024 390.5L1024 367 M1024 44.5L1024 68 M1117.32 390.5L1117.32 378.8 M1117.32 44.5L1117.32 56.2 M1171.91 390.5L1171.91 378.8 M1171.91 44.5L1171.91 56.2 M1210.64 390.5L1210.64 378.8 M1210.64 44.5L1210.64 56.2 M1240.68 390.5L1240.68 378.8 M1240.68 44.5L1240.68 56.2 M1265.23 390.5L1265.23 378.8 M1265.23 44.5L1265.23 56.2 M1285.98 390.5L1285.98 378.8 M1285.98 44.5L1285.98 56.2 M1303.96 390.5L1303.96 378.8 M1303.96 44.5L1303.96 56.2 M1319.82 390.5L1319.82 378.8 M1319.82 44.5L1319.82 56.2 M1334 390.5L1334 367 M1334 44.5L1334 68 M187 390.8L198.7 390.8 M1333.5 390.8L1321.8 390.8 M187 372.61L198.7 372.61 M1333.5 372.61L1321.8 372.61 M187 359.71L198.7 359.71 M1333.5 359.71L1321.8 359.71 M187 349.7L198.7 349.7 M1333.5 349.7L1321.8 349.7 M187 341.52L198.7 341.52 M1333.5 341.52L1321.8 341.52 M187 334.6L198.7 334.6 M1333.5 334.6L1321.8 334.6 M187 328.61L198.7 328.61 M1333.5 328.61L1321.8 328.61 M187 323.33L198.7 323.33 M1333.5 323.33L1321.8 323.33 M187 318.6L210.5 318.6 M1333.5 318.6L1310 318.6 M187 287.5L198.7 287.5 M1333.5 287.5L1321.8 287.5 M187 269.31L198.7 269.31 M1333.5 269.31L1321.8 269.31 M187 256.41L198.7 256.41 M1333.5 256.41L1321.8 256.41 M187 246.4L198.7 246.4 M1333.5 246.4L1321.8 246.4 M187 238.22L198.7 238.22 M1333.5 238.22L1321.8 238.22 M187 231.3L198.7 231.3 M1333.5 231.3L1321.8 231.3 M187 225.31L198.7 225.31 M1333.5 225.31L1321.8 225.31 M187 220.03L198.7 220.03 M1333.5 220.03L1321.8 220.03 M187 215.3L210.5 215.3 M1333.5 215.3L1310 215.3 M187 184.2L198.7 184.2 M1333.5 184.2L1321.8 184.2 M187 166.01L198.7 166.01 M1333.5 166.01L1321.8 166.01 M187 153.11L198.7 153.11 M1333.5 153.11L1321.8 153.11 M187 143.1L198.7 143.1 M1333.5 143.1L1321.8 143.1 M187 134.92L198.7 134.92 M1333.5 134.92L1321.8 134.92 M187 128L198.7 128 M1333.5 128L1321.8 128 M187 122.01L198.7 122.01 M1333.5 122.01L1321.8 122.01 M187 116.73L198.7 116.73 M1333.5 116.73L1321.8 116.73 M187 112L210.5 112 M1333.5 112L1310 112 M187 80.9L198.7 80.9 M1333.5 80.9L1321.8 80.9 M187 62.71L198.7 62.71 M1333.5 62.71L1321.8 62.71 M187 49.81L198.7 49.81 M1333.5 49.81L1321.8 49.81 M187.32 748L187.32 736.3 M187.32 402L187.32 413.7 M241.91 748L241.91 736.3 M241.91 402L241.91 413.7 M280.64 748L280.64 736.3 M280.64 402L280.64 413.7 M310.68 748L310.68 736.3 M310.68 402L310.68 413.7 M335.23 748L335.23 736.3 M335.23 402L335.23 413.7 M355.98 748L355.98 736.3 M355.98 402L355.98 413.7 M373.96 748L373.96 736.3 M373.96 402L373.96 413.7 M389.82 748L389.82 736.3 M389.82 402L389.82 413.7 M404 748L404 724.5 M404 402L404 425.5 M497.32 748L497.32 736.3 M497.32 402L497.32 413.7 M551.91 748L551.91 736.3 M551.91 402L551.91 413.7 M590.64 748L590.64 736.3 M590.64 402L590.64 413.7 M620.68 748L620.68 736.3 M620.68 402L620.68 413.7 M645.23 748L645.23 736.3 M645.23 402L645.23 413.7 M665.98 748L665.98 736.3 M665.98 402L665.98 413.7 M683.96 748L683.96 736.3 M683.96 402L683.96 413.7 M699.82 748L699.82 736.3 M699.82 402L699.82 413.7 M714 748L714 724.5 M714 402L714 425.5 M807.32 748L807.32 736.3 M807.32 402L807.32 413.7 M861.91 748L861.91 736.3 M861.91 402L861.91 413.7 M900.64 748L900.64 736.3 M900.64 402L900.64 413.7 M930.68 748L930.68 736.3 M930.68 402L930.68 413.7 M955.23 748L955.23 736.3 M955.23 402L955.23 413.7 M975.98 748L975.98 736.3 M975.98 402L975.98 413.7 M993.96 748L993.96 736.3 M993.96 402L993.96 413.7 M1009.82 748L1009.82 736.3 M1009.82 402L1009.82 413.7 M1024 748L1024 724.5 M1024 402L1024 425.5 M1117.32 748L1117.32 736.3 M1117.32 402L1117.32 413.7 M1171.91 748L1171.91 736.3 M1171.91 402L1171.91 413.7 M1210.64 748L1210.64 736.3 M1210.64 402L1210.64 413.7 M1240.68 748L1240.68 736.3 M1240.68 402L1240.68 413.7 M1265.23 748L1265.23 736.3 M1265.23 402L1265.23 413.7 M1285.98 748L1285.98 736.3 M1285.98 402L1285.98 413.7 M1303.96 748L1303.96 736.3 M1303.96 402L1303.96 413.7 M1319.82 748L1319.82 736.3 M1319.82 402L1319.82 413.7 M1334 748L1334 724.5 M1334 402L1334 425.5 M187 731.02L198.7 731.02 M1333.5 731.02L1321.8 731.02 M187 713.3L198.7 713.3 M1333.5 713.3L1321.8 713.3 M187 700.73L198.7 700.73 M1333.5 700.73L1321.8 700.73 M187 690.98L198.7 690.98 M1333.5 690.98L1321.8 690.98 M187 683.02L198.7 683.02 M1333.5 683.02L1321.8 683.02 M187 676.28L198.7 676.28 M1333.5 676.28L1321.8 676.28 M187 670.45L198.7 670.45 M1333.5 670.45L1321.8 670.45 M187 665.3L198.7 665.3 M1333.5 665.3L1321.8 665.3 M187 660.7L198.7 660.7 M1333.5 660.7L1321.8 660.7 M187 459.5L210.5 459.5 M1333.5 459.5L1310 459.5 M187 429.22L198.7 429.22 M1333.5 429.22L1321.8 429.22 M187 411.5L198.7 411.5 M1333.5 411.5L1321.8 411.5 M187.32 1105.5L187.32 1093.8 M187.32 759.4L187.32 771.1 M241.91 1105.5L241.91 1093.8 M241.91 759.4L241.91 771.1 M280.64 1105.5L280.64 1093.8 M280.64 759.4L280.64 771.1 M310.68 1105.5L310.68 1093.8 M310.68 759.4L310.68 771.1 M335.23 1105.5L335.23 1093.8 M335.23 759.4L335.23 771.1 M355.98 1105.5L355.98 1093.8 M355.98 759.4L355.98 771.1 M373.96 1105.5L373.96 1093.8 M373.96 759.4L373.96 771.1 M389.82 1105.5L389.82 1093.8 M389.82 759.4L389.82 771.1 M404 1105.5L404 1082 M404 759.4L404 782.9 M497.32 1105.5L497.32 1093.8 M497.32 759.4L497.32 771.1 M551.91 1105.5L551.91 1093.8 M551.91 759.4L551.91 771.1 M590.64 1105.5L590.64 1093.8 M590.64 759.4L590.64 771.1 M620.68 1105.5L620.68 1093.8 M620.68 759.4L620.68 771.1 M645.23 1105.5L645.23 1093.8 M645.23 759.4L645.23 771.1 M665.98 1105.5L665.98 1093.8 M665.98 759.4L665.98 771.1 M683.96 1105.5L683.96 1093.8 M683.96 759.4L683.96 771.1 M699.82 1105.5L699.82 1093.8 M699.82 759.4L699.82 771.1 M714 1105.5L714 1082 M714 759.4L714 782.9 M807.32 1105.5L807.32 1093.8 M807.32 759.4L807.32 771.1 M861.91 1105.5L861.91 1093.8 M861.91 759.4L861.91 771.1 M900.64 1105.5L900.64 1093.8 M900.64 759.4L900.64 771.1 M930.68 1105.5L930.68 1093.8 M930.68 759.4L930.68 771.1 M955.23 1105.5L955.23 1093.8 M955.23 759.4L955.23 771.1 M975.98 1105.5L975.98 1093.8 M975.98 759.4L975.98 771.1 M993.96 1105.5L993.96 1093.8 M993.96 759.4L993.96 771.1 M1009.82 1105.5L1009.82 1093.8 M1009.82 759.4L1009.82 771.1 M1024 1105.5L1024 1082 M1024 759.4L1024 782.9 M1117.32 1105.5L1117.32 1093.8 M1117.32 759.4L1117.32 771.1 M1171.91 1105.5L1171.91 1093.8 M1171.91 759.4L1171.91 771.1 M1210.64 1105.5L1210.64 1093.8 M1210.64 759.4L1210.64 771.1 M1240.68 1105.5L1240.68 1093.8 M1240.68 759.4L1240.68 771.1 M1265.23 1105.5L1265.23 1093.8 M1265.23 759.4L1265.23 771.1 M1285.98 1105.5L1285.98 1093.8 M1285.98 759.4L1285.98 771.1 M1303.96 1105.5L1303.96 1093.8 M1303.96 759.4L1303.96 771.1 M1319.82 1105.5L1319.82 1093.8 M1319.82 759.4L1319.82 771.1 M1334 1105.5L1334 1082 M1334 759.4L1334 782.9 M187 1105.71L210.5 1105.71 M1333.5 1105.71L1310 1105.71 M187 1077.54L198.7 1077.54 M1333.5 1077.54L1321.8 1077.54 M187 1061.07L198.7 1061.07 M1333.5 1061.07L1321.8 1061.07 M187 1049.38L198.7 1049.38 M1333.5 1049.38L1321.8 1049.38 M187 1040.31L198.7 1040.31 M1333.5 1040.31L1321.8 1040.31 M187 1032.9L198.7 1032.9 M1333.5 1032.9L1321.8 1032.9 M187 1026.63L198.7 1026.63 M1333.5 1026.63L1321.8 1026.63 M187 1021.21L198.7 1021.21 M1333.5 1021.21L1321.8 1021.21 M187 1016.42L198.7 1016.42 M1333.5 1016.42L1321.8 1016.42 M187 1012.14L198.7 1012.14 M1333.5 1012.14L1321.8 1012.14 M187 825L210.5 825 M1333.5 825L1310 825 M187 796.83L198.7 796.83 M1333.5 796.83L1321.8 796.83 M187 780.36L198.7 780.36 M1333.5 780.36L1321.8 780.36 M187 768.67L198.7 768.67 M1333.5 768.67L1321.8 768.67 M187 759.6L198.7 759.6 M1333.5 759.6L1321.8 759.6" stroke="#000" stroke-width="4.4" fill="none"/>
<rect x="187.0" y="44.5" width="1146.5" height="346.0" fill="none" stroke="#000" stroke-linejoin="round" stroke-width="4.5"/>
<rect x="187.0" y="402.0" width="1146.5" height="346.0" fill="none" stroke="#000" stroke-linejoin="round" stroke-width="4.5"/>
<rect x="187.0" y="759.4" width="1146.5" height="346.1" fill="none" stroke="#000" stroke-linejoin="round" stroke-width="4.5"/>
<g opacity="0.999">
<text transform="translate(156.36 131.01) scale(0.6958 1)" font-size="57.62">1</text>
<text transform="translate(110.87 234.86) scale(0.9012 1)" font-size="58.89">0.1</text>
<text transform="translate(82.84 337.86) scale(0.9158 1)" font-size="58.90">0.01</text>
<text transform="translate(156.36 478.00) scale(0.6963 1)" font-size="57.58">1</text>
<text transform="translate(156.36 844.00) scale(0.6963 1)" font-size="57.58">1</text>
<text transform="translate(54.81 1124.83) scale(0.9010 1)" font-size="60.40">0.001</text>
<text transform="translate(371.86 1155.84) scale(0.8784 1)" font-size="60.40">0.1</text>
<text transform="translate(706.33 1155.00) scale(0.6974 1)" font-size="57.58">1</text>
<text transform="translate(998.01 1155.84) scale(0.9375 1)" font-size="58.88">10</text>
<text transform="translate(1293.53 1155.84) scale(0.9361 1)" font-size="58.88">100</text>
<text transform="translate(812.87 154.45) scale(0.9971 1)" font-size="56.59">ln<tspan font-size="1.058em" dy="0.0567em">[</tspan><tspan dy="-0.06em">2</tspan><tspan font-style="italic">π</tspan>eDt<tspan font-size="1.058em" dy="0.0567em">]</tspan><tspan dy="-0.06em">/2</tspan></text>
<text transform="translate(844.28 501.30) scale(0.9905 1)" font-size="56.67">ln<tspan font-size="1.058em" dy="0.0567em">[</tspan><tspan dy="-0.06em">2</tspan><tspan font-style="italic">π</tspan>eDt<tspan font-size="1.058em" dy="0.0567em">]</tspan><tspan dy="-0.06em">/2</tspan></text>
<text transform="translate(841.87 854.30) scale(0.9959 1)" font-size="56.67">ln<tspan font-size="1.058em" dy="0.0567em">[</tspan><tspan dy="-0.06em">2</tspan><tspan font-style="italic">π</tspan>eDt<tspan font-size="1.058em" dy="0.0567em">]</tspan><tspan dy="-0.06em">/2</tspan></text>
<text transform="translate(201.94 291.41) scale(0.9374 1)" font-size="59.72">1.43t</text>
<text transform="translate(314.03 257.16) scale(0.9139 1)" font-size="43.00">−1.67</text>
<text transform="translate(337.96 705.41) scale(0.9611 1)" font-size="58.23">1.71t</text>
<text transform="translate(450.01 671.17) scale(0.9947 1)" font-size="39.95">−1.67</text>
<text transform="translate(190.95 1000.44) scale(0.9609 1)" font-size="58.24">1.57t</text>
<text transform="translate(302.99 966.72) scale(0.9882 1)" font-size="40.66">−1.67</text>
<text transform="translate(541.35 1211.44) scale(1.0011 1)" font-size="64.53">t (arbitrary units)</text>
<text transform="translate(77.33 596.02) rotate(-90) scale(1.0080 1)" font-size="85.15">S</text>
</g>
</svg>
</body></html>
